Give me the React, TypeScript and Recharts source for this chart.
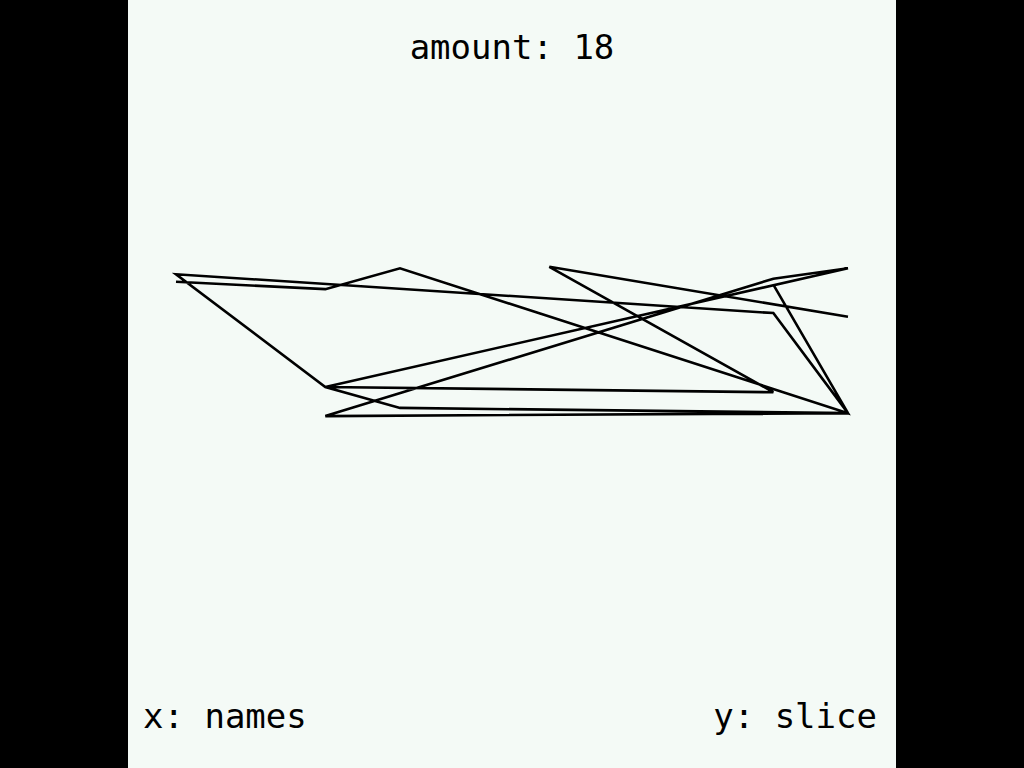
import { LineChart, Line, XAxis, YAxis } from 'recharts';

// point order as drawn, x = names index, y = slice value
const names = [0, 2, 3, 9, 8, 9, 8, 0, 2, 3, 9, 2, 8, 9, 2, 8, 5, 9];
const slice = [5.87, 5.77, 6.05, 4.11, 5.83, 4.11, 5.45, 5.97, 4.46, 4.18, 4.11, 4.07, 5.91, 6.05, 4.46, 4.39, 6.07, 5.4];

const title = 'amount: ' + names.length;
const xLabel = 'x: names';
const yLabel = 'y: slice';

const data = names.map((n, i) => ({ names: n, slice: slice[i] }));

const textStyle = {
  position: 'absolute' as const,
  fontFamily: '"DejaVu Sans Mono", monospace',
  fontSize: 34,
  lineHeight: '34px',
  color: '#000',
  whiteSpace: 'pre' as const,
};

export default function App() {
  return (
    <div style={{ position: 'fixed', left: 0, top: 0, width: 1024, height: 768, background: '#000' }}>
      <div style={{ position: 'absolute', left: 128, top: 0, width: 768, height: 768, background: '#f4faf6' }}>
        <LineChart width={768} height={768} data={data} margin={{ top: 48, right: 48, bottom: 48, left: 48 }}>
          <XAxis type="number" dataKey="names" domain={[0, 9]} hide />
          <YAxis type="number" domain={[0, 9]} hide />
          <Line
            type="linear"
            dataKey="slice"
            stroke="#000"
            strokeWidth={2.6}
            dot={false}
            activeDot={false}
            isAnimationActive={false}
          />
        </LineChart>
        <div style={{ ...textStyle, left: 0, width: 768, textAlign: 'center', top: 30 }}>{title}</div>
        <div style={{ ...textStyle, left: 15, top: 699 }}>{xLabel}</div>
        <div style={{ ...textStyle, right: 19, top: 699 }}>{yLabel}</div>
      </div>
    </div>
  );
}
